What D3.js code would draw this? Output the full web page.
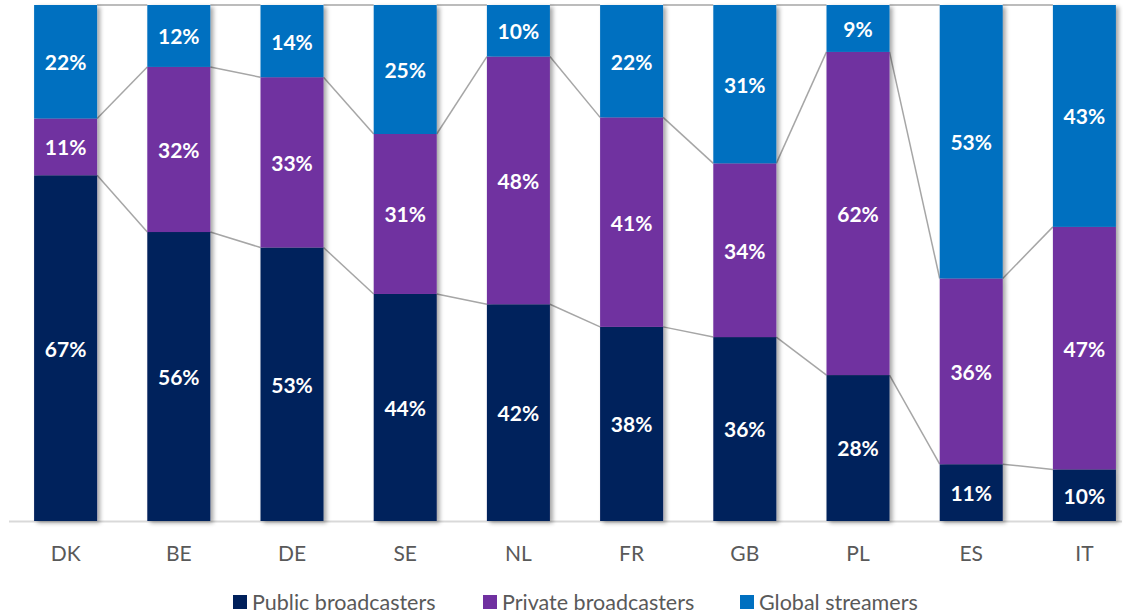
<!DOCTYPE html>
<html>
<head>
<meta charset="utf-8">
<script src="https://cdn.jsdelivr.net/npm/d3@7"></script>
<style>
  html, body { margin: 0; padding: 0; background: #fff; }
  svg { display: block; }
</style>
</head>
<body>
<svg id="chart" width="1123" height="616"></svg>
<script>
const categories = ["DK", "BE", "DE", "SE", "NL", "FR", "GB", "PL", "ES", "IT"];
const publicBroadcasters = [67, 56, 53, 44, 42, 38, 36, 28, 11, 10];
const privateBroadcasters = [11, 32, 33, 31, 48, 41, 34, 62, 36, 47];
const globalStreamers = [22, 12, 14, 25, 10, 22, 31, 9, 53, 43];
const seriesNames = ["Public broadcasters", "Private broadcasters", "Global streamers"];
const seriesColors = ["#00205B", "#7030A0", "#0070C0"];

(function () {
const keys = ["pub", "priv", "glob"];
const rows = categories.map((c, i) => ({
  cat: c, pub: publicBroadcasters[i], priv: privateBroadcasters[i], glob: globalStreamers[i]
}));

const svg = d3.select("#chart");
const plotTop = 5, plotBottom = 521;

const x = d3.scaleBand().domain(categories).range([9, 1141]).paddingInner(0.4435).paddingOuter(0.22175);
const y = d3.scaleLinear().domain([0, 1]).range([plotBottom, plotTop]);
const bw = x.bandwidth();

const stacked = d3.stack().keys(keys).offset(d3.stackOffsetExpand)(rows);

const defs = svg.append("defs");
const f = defs.append("filter").attr("id", "shadow").attr("x", "-10%").attr("y", "-10%").attr("width", "130%").attr("height", "130%");
f.append("feDropShadow").attr("dx", 3).attr("dy", 2).attr("stdDeviation", 2)
  .attr("flood-color", "#000").attr("flood-opacity", 0.35);

// series lines
const lineG = svg.append("g");
stacked.forEach(s => {
  for (let i = 0; i < categories.length - 1; i++) {
    lineG.append("line")
      .attr("x1", x(categories[i]) + bw).attr("y1", y(s[i][1]))
      .attr("x2", x(categories[i + 1])).attr("y2", y(s[i + 1][1]))
      .attr("stroke", "#a6a6a6").attr("stroke-width", 1.5);
  }
});

// axis line
svg.append("line").attr("x1", 9).attr("x2", 1122).attr("y1", plotBottom + 0.5).attr("y2", plotBottom + 0.5)
  .attr("stroke", "#d9d9d9").attr("stroke-width", 2);

// bars
categories.forEach((c, i) => {
  const g = svg.append("g").attr("filter", "url(#shadow)");
  stacked.forEach((s, k) => {
    g.append("rect")
      .attr("x", x(c)).attr("width", bw)
      .attr("y", y(s[i][1])).attr("height", y(s[i][0]) - y(s[i][1]))
      .attr("fill", seriesColors[k]);
  });
});

// labels
categories.forEach((c, i) => {
  stacked.forEach((s, k) => {
    svg.append("text")
      .attr("x", x(c) + bw / 2)
      .attr("y", (y(s[i][0]) + y(s[i][1])) / 2)
      .attr("dy", "0.4em")
      .attr("text-anchor", "middle")
      .attr("fill", "#fff")
      .attr("font-family", "Lato, 'Open Sans', sans-serif")
      .attr("font-weight", "bold")
      .attr("font-size", 21)
      .text(rows[i][keys[k]] + "%");
  });
});

// category axis
const xAxis = d3.axisBottom(x).tickSize(0).tickPadding(0);
const ax = svg.append("g").attr("transform", `translate(0,${plotBottom})`).call(xAxis);
ax.select(".domain").remove();
ax.selectAll("text")
  .attr("y", 32).attr("dy", "0.38em")
  .attr("fill", "#595959")
  .attr("font-family", "Lato, 'Open Sans', sans-serif")
  .attr("font-size", 21);

// legend
const legendX = [233, 483, 740];
const leg = svg.append("g");
seriesNames.forEach((n, k) => {
  leg.append("rect").attr("x", legendX[k]).attr("y", 595).attr("width", 14).attr("height", 14)
    .attr("fill", seriesColors[k]);
  leg.append("text").attr("x", legendX[k] + 19).attr("y", 602).attr("dy", "0.36em")
    .attr("fill", "#595959")
    .attr("font-family", "Lato, 'Open Sans', sans-serif")
    .attr("font-size", 21.5)
    .text(n);
});
})();
</script>
</body>
</html>
